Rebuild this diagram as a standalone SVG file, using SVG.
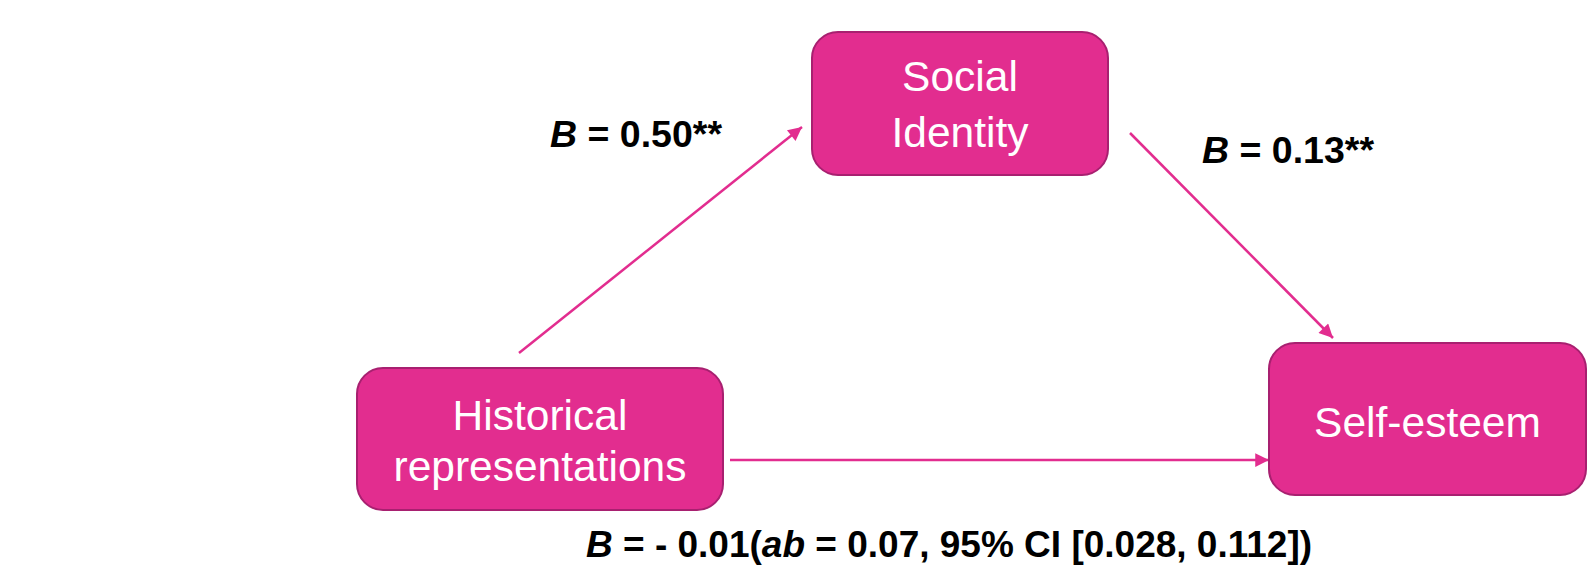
<svg xmlns="http://www.w3.org/2000/svg" width="1590" height="574" viewBox="0 0 1590 574">
<style>
.box{fill:#E22D8F;stroke:#A82070;stroke-width:2}
.nt{font-family:"Liberation Sans",Arial,sans-serif;font-size:42.5px;fill:#fff;text-anchor:middle}
.lb{font-family:"Liberation Sans",Arial,sans-serif;font-size:37.5px;font-weight:bold;fill:#000}
.cn{stroke:#E22D8F;stroke-width:2.5;fill:none}
</style>
<defs>
<marker id="ah" viewBox="0 0 10 10" refX="10" refY="5" markerWidth="7" markerHeight="5.5" markerUnits="strokeWidth" orient="auto">
<path d="M0,0 L10,5 L0,10 z" fill="#E22D8F"/>
</marker>
</defs>
<rect width="1590" height="574" fill="#fff"/>
<g id="connectors">
<line class="cn" x1="519" y1="353" x2="802" y2="127" marker-end="url(#ah)"/>
<line class="cn" x1="1130" y1="133" x2="1333" y2="338" marker-end="url(#ah)"/>
<line class="cn" x1="730" y1="460" x2="1269" y2="460" marker-end="url(#ah)"/>
</g>
<g id="social-identity">
<rect class="box" x="812" y="32" width="296" height="143" rx="26"/>
<text class="nt" x="960" y="91">Social</text>
<text class="nt" x="960" y="147">Identity</text>
</g>
<g id="historical-representations">
<rect class="box" x="357" y="368" width="366" height="142" rx="26"/>
<text class="nt" x="540" y="430">Historical</text>
<text class="nt" x="540" y="481">representations</text>
</g>
<g id="self-esteem">
<rect class="box" x="1269" y="343" width="317" height="152" rx="26"/>
<text class="nt" x="1427.5" y="437">Self-esteem</text>
</g>
<g id="labels">
<text class="lb" x="550" y="147"><tspan font-style="italic">B</tspan> = 0.50**</text>
<text class="lb" x="1202" y="163"><tspan font-style="italic">B</tspan> = 0.13**</text>
<text class="lb" x="586" y="557" style="font-size:37px"><tspan font-style="italic">B</tspan> = - 0.01(<tspan font-style="italic">ab</tspan> = 0.07, 95% CI [0.028, 0.112])</text>
</g>
</svg>
